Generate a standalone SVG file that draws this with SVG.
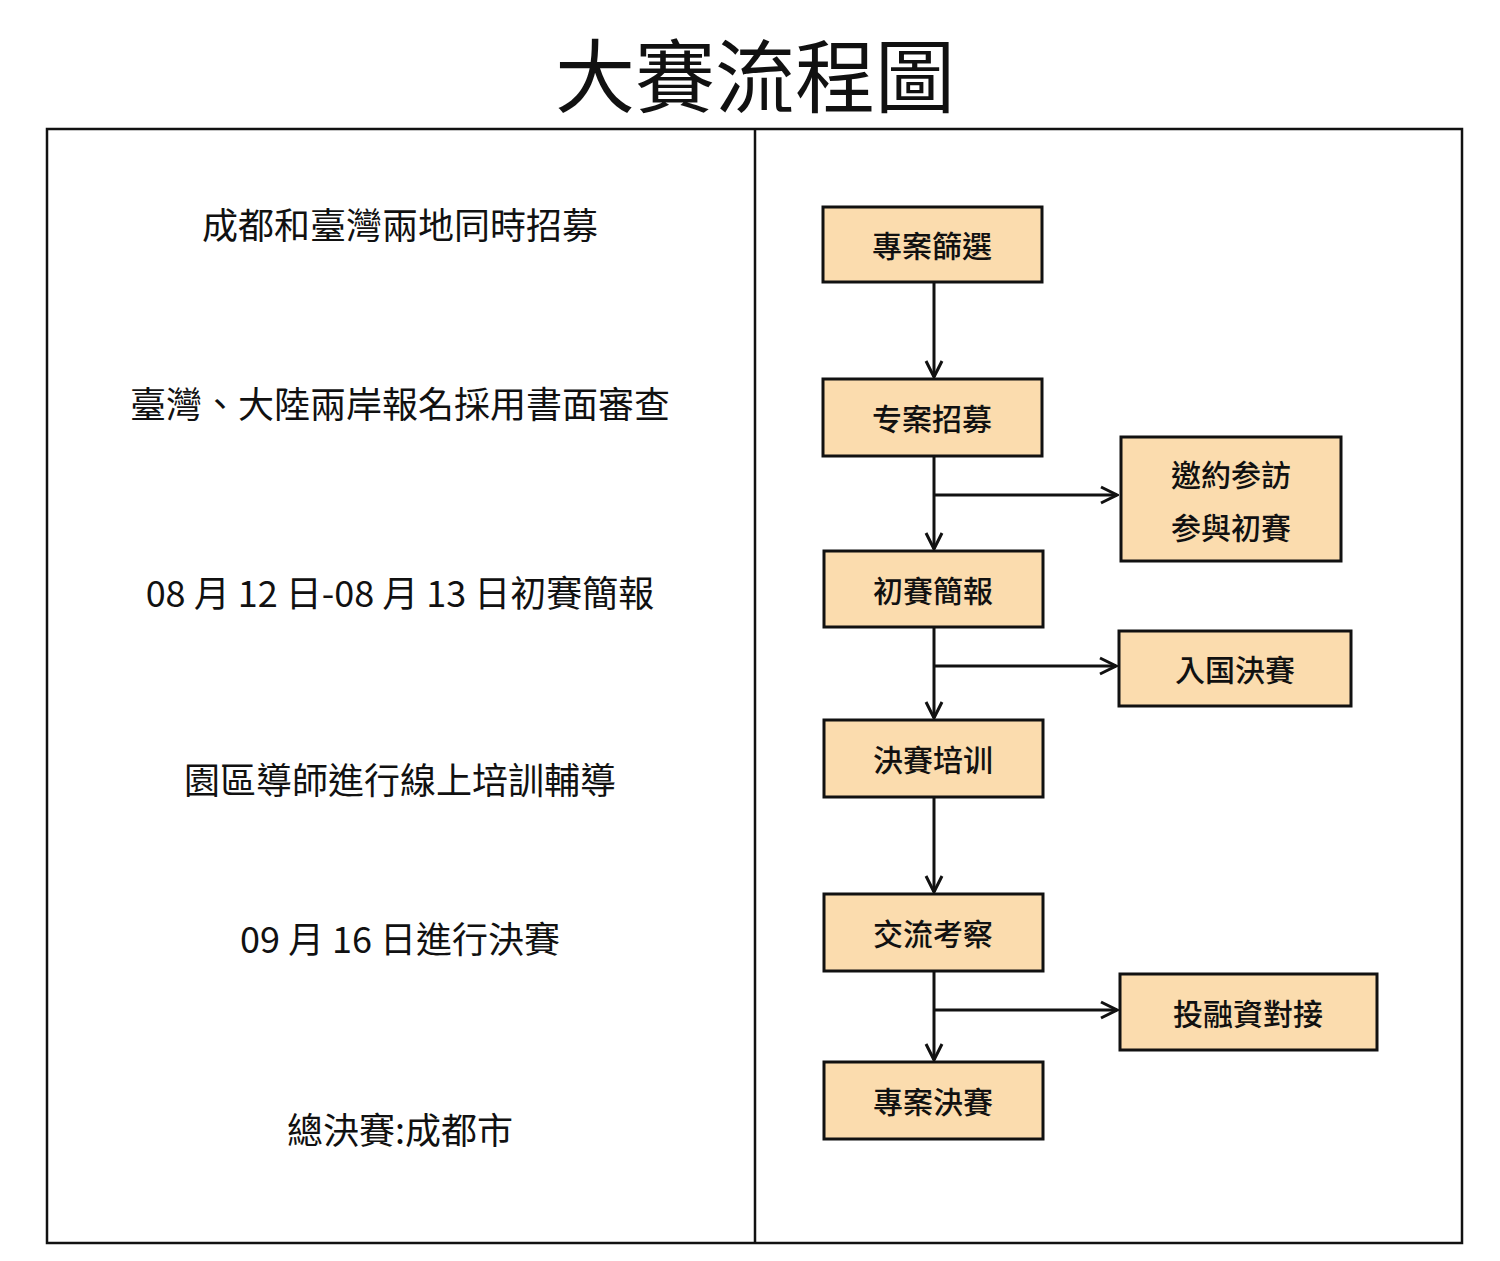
<svg xmlns="http://www.w3.org/2000/svg" width="1500" height="1261" viewBox="0 0 1500 1261">
<defs>
<style>
.t{font-family:"Noto Sans CJK TC","Noto Sans CJK SC",sans-serif;fill:#111}
.l{font-size:36px;text-anchor:middle}
.b{fill:#fbdcae;stroke:#111;stroke-width:3}
.bt{font-size:30px;text-anchor:middle;dominant-baseline:central;font-weight:500}
.c{stroke:#111;stroke-width:3;fill:none}
</style>
<marker id="a" viewBox="0 0 20 20" refX="18" refY="10" markerWidth="20" markerHeight="20" markerUnits="userSpaceOnUse" orient="auto"><path d="M2,2 L18,10 L2,18" fill="none" stroke="#111" stroke-width="3"/></marker>
</defs>
<rect width="1500" height="1261" fill="#fff"/>
<text class="t" x="755" y="106" font-size="80" text-anchor="middle">大賽流程圖</text>
<rect x="47" y="129" width="1415" height="1114" fill="none" stroke="#111" stroke-width="2.5"/>
<line x1="755" y1="129" x2="755" y2="1243" stroke="#111" stroke-width="2.5"/>
<g class="t l">
<text x="400" y="239">成都和臺灣兩地同時招募</text>
<text x="400" y="418">臺灣、大陸兩岸報名採用書面審查</text>
<text x="400" y="607">08 月 12 日-08 月 13 日初賽簡報</text>
<text x="400" y="794">園區導師進行線上培訓輔導</text>
<text x="400" y="953">09 月 16 日進行決賽</text>
<text x="400" y="1144">總決賽:成都市</text>
</g>
<g id="connectors">
<path class="c" d="M934,282 V377" marker-end="url(#a)"/>
<path class="c" d="M934,456 V549" marker-end="url(#a)"/>
<path class="c" d="M934,627 V718" marker-end="url(#a)"/>
<path class="c" d="M934,797 V892" marker-end="url(#a)"/>
<path class="c" d="M934,971 V1060" marker-end="url(#a)"/>
<path class="c" d="M934,495 H1117" marker-end="url(#a)"/>
<path class="c" d="M934,666 H1116" marker-end="url(#a)"/>
<path class="c" d="M934,1010 H1117" marker-end="url(#a)"/>
</g>
<g id="n1"><rect class="b" x="823" y="207" width="219" height="75"/><text class="t bt" x="932" y="244">專案篩選</text></g>
<g id="n2"><rect class="b" x="823" y="379" width="219" height="77"/><text class="t bt" x="932" y="417">专案招募</text></g>
<g id="n3"><rect class="b" x="824" y="551" width="219" height="76"/><text class="t bt" x="933" y="589">初賽簡報</text></g>
<g id="n4"><rect class="b" x="824" y="720" width="219" height="77"/><text class="t bt" x="933" y="758">決賽培训</text></g>
<g id="n5"><rect class="b" x="824" y="894" width="219" height="77"/><text class="t bt" x="933" y="932">交流考察</text></g>
<g id="n6"><rect class="b" x="824" y="1062" width="219" height="77"/><text class="t bt" x="933" y="1100">專案決賽</text></g>
<g id="s1"><rect class="b" x="1121" y="437" width="220" height="124"/><text class="t bt" x="1231" y="473">邀約参訪</text><text class="t bt" x="1231" y="526">参與初賽</text></g>
<g id="s2"><rect class="b" x="1119" y="631" width="232" height="75"/><text class="t bt" x="1235" y="668">入国決賽</text></g>
<g id="s3"><rect class="b" x="1120" y="974" width="257" height="76"/><text class="t bt" x="1248" y="1012">投融資對接</text></g>
</svg>
